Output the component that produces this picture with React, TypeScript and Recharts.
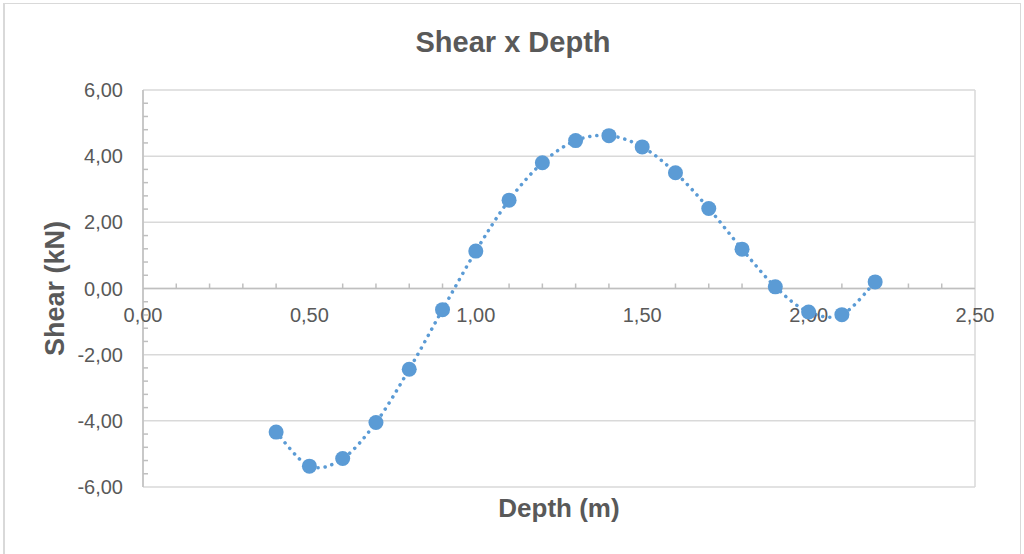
import React from 'react';
import {
  ComposedChart,
  Line,
  XAxis,
  YAxis,
  CartesianGrid,
  ReferenceLine,
  ReferenceDot,
} from 'recharts';

const depth = [0.4, 0.5, 0.6, 0.7, 0.8, 0.9, 1.0, 1.1, 1.2, 1.3, 1.4, 1.5, 1.6, 1.7, 1.8, 1.9, 2.0, 2.1, 2.2];
const shear = [-4.34, -5.37, -5.14, -4.05, -2.44, -0.64, 1.13, 2.67, 3.8, 4.47, 4.62, 4.28, 3.5, 2.42, 1.19, 0.05, -0.71, -0.79, 0.2];

const xTicks = [0, 0.5, 1, 1.5, 2, 2.5];
const yTicks = [-6, -4, -2, 0, 2, 4, 6];
const xMinorTicks = [0.1, 0.2, 0.3, 0.4, 0.6, 0.7, 0.8, 0.9, 1.1, 1.2, 1.3, 1.4, 1.6, 1.7, 1.8, 1.9, 2.1, 2.2, 2.3, 2.4];
const yMinorTicks = [
  -5.6, -5.2, -4.8, -4.4, -3.6, -3.2, -2.8, -2.4, -1.6, -1.2, -0.8, -0.4,
  0.4, 0.8, 1.2, 1.6, 2.4, 2.8, 3.2, 3.6, 4.4, 4.8, 5.2, 5.6,
];

const TITLE = 'Shear x Depth';
const X_TITLE = 'Depth (m)';
const Y_TITLE = 'Shear (kN)';

const data = depth.map((x, i) => ({ x, y: shear[i] }));

const FONT = '"Liberation Sans", Arial, Helvetica, sans-serif';
const TEXT = '#595959';
const GRID = '#d9d9d9';
const AXIS = '#bfbfbf';
const BLUE = '#5B9BD5';

const fmt = (v: number) => v.toFixed(2).replace('.', ',');

// Excel-like smoothed line (Catmull-Rom style Bezier)
function excelCurve(context: any) {
  let pts: number[][] = [];
  return {
    areaStart() {},
    areaEnd() {},
    lineStart() {
      pts = [];
    },
    point(x: number, y: number) {
      pts.push([+x, +y]);
    },
    lineEnd() {
      const n = pts.length;
      if (!n) return;
      context.moveTo(pts[0][0], pts[0][1]);
      for (let i = 0; i < n - 1; i++) {
        const p0 = pts[Math.max(i - 1, 0)];
        const p1 = pts[i];
        const p2 = pts[i + 1];
        const p3 = pts[Math.min(i + 2, n - 1)];
        context.bezierCurveTo(
          p1[0] + (p2[0] - p0[0]) / 6,
          p1[1] + (p2[1] - p0[1]) / 6,
          p2[0] - (p3[0] - p1[0]) / 6,
          p2[1] - (p3[1] - p1[1]) / 6,
          p2[0],
          p2[1]
        );
      }
    },
  };
}

export default function App() {
  return (
    <div
      style={{
        position: 'absolute',
        left: 0,
        top: 0,
        width: 1024,
        height: 554,
        background: '#fff',
        overflow: 'hidden',
      }}
    >
      <div
        style={{
          position: 'absolute',
          left: 3,
          top: 3,
          width: 1018,
          height: 600,
          borderTop: `1px solid ${GRID}`,
          borderLeft: `2px solid ${GRID}`,
          borderRight: `1px solid ${GRID}`,
          boxSizing: 'border-box',
        }}
      />
      <svg
        width={1024}
        height={80}
        style={{ position: 'absolute', left: 0, top: 0 }}
      >
        <text
          x={513}
          y={52}
          textAnchor="middle"
          fontFamily={FONT}
          fontWeight="bold"
          fontSize={29}
          fill={TEXT}
        >
          {TITLE}
        </text>
      </svg>
      <div style={{ position: 'absolute', left: 0, top: 0 }}>
        <ComposedChart
          width={1024}
          height={554}
          data={data}
          margin={{ top: 90, right: 49, bottom: 0, left: 0 }}
        >
          <CartesianGrid stroke={GRID} strokeWidth={1.5} />
          <XAxis
            type="number"
            dataKey="x"
            domain={[0, 2.5]}
            ticks={xTicks}
            tick={false}
            tickLine={false}
            axisLine={false}
            height={67}
            label={{
              content: (props: any) => {
                const vb = props.viewBox || {};
                return (
                  <text
                    x={vb.x + vb.width / 2}
                    y={vb.y + 30}
                    textAnchor="middle"
                    fontFamily={FONT}
                    fontWeight="bold"
                    fontSize={26}
                    fill={TEXT}
                  >
                    {X_TITLE}
                  </text>
                );
              },
            }}
          />
          <YAxis
            type="number"
            domain={[-6, 6]}
            ticks={yTicks}
            width={143}
            tickLine={false}
            tickSize={0}
            tickMargin={20}
            axisLine={{ stroke: AXIS, strokeWidth: 1.5 }}
            tickFormatter={fmt}
            tick={{ fill: TEXT, fontSize: 20, fontFamily: FONT }}
            label={{
              content: (props: any) => {
                const vb = props.viewBox || {};
                const cy = vb.y + vb.height / 2;
                return (
                  <text
                    x={55}
                    y={cy}
                    transform={`rotate(-90 55 ${cy})`}
                    textAnchor="middle"
                    dominantBaseline="central"
                    fontFamily={FONT}
                    fontWeight="bold"
                    fontSize={27}
                    fill={TEXT}
                  >
                    {Y_TITLE}
                  </text>
                );
              },
            }}
          />
          <ReferenceLine y={0} stroke={AXIS} strokeWidth={1.5} />
          {xMinorTicks.map((v) => (
            <ReferenceDot
              key={`xm${v}`}
              x={v}
              y={0}
              r={0}
              shape={(p: any) => (
                <line x1={p.cx} x2={p.cx} y1={p.cy} y2={p.cy - 5} stroke={AXIS} strokeWidth={1.5} />
              )}
            />
          ))}
          {yMinorTicks.map((v) => (
            <ReferenceDot
              key={`ym${v}`}
              x={0}
              y={v}
              r={0}
              shape={(p: any) => (
                <line x1={p.cx} x2={p.cx + 5} y1={p.cy} y2={p.cy} stroke={AXIS} strokeWidth={1.5} />
              )}
            />
          ))}
          {xTicks.map((v) => (
            <ReferenceDot
              key={`xl${v}`}
              x={v}
              y={0}
              r={0}
              shape={(p: any) => (
                <text
                  x={p.cx}
                  y={p.cy + 33}
                  textAnchor="middle"
                  fontFamily={FONT}
                  fontSize={20}
                  fill={TEXT}
                >
                  {fmt(v)}
                </text>
              )}
            />
          ))}
          <Line
            dataKey="y"
            type={excelCurve as any}
            stroke={BLUE}
            strokeWidth={3.5}
            strokeDasharray="0.1 7"
            strokeLinecap="round"
            dot={{ r: 7.5, fill: BLUE, stroke: 'none', strokeDasharray: 'none' }}
            activeDot={false}
            isAnimationActive={false}
          />
        </ComposedChart>
      </div>
    </div>
  );
}
